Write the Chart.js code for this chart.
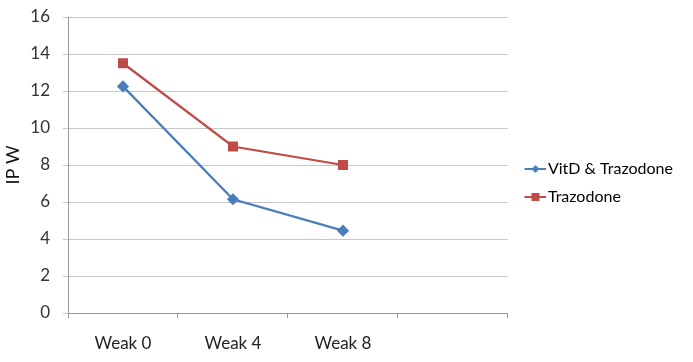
<!DOCTYPE html>
<html>
<head>
<meta charset="utf-8">
<script src="https://cdn.jsdelivr.net/npm/chart.js@4.4.1/dist/chart.umd.min.js"></script>
<style>
  html, body { margin: 0; padding: 0; background: #fff; }
  #wrap { width: 693px; height: 362px; }
</style>
</head>
<body>
<div id="wrap"><canvas id="chart" width="693" height="362"></canvas></div>
<script>
const weeks = ['Weak 0', 'Weak 4', 'Weak 8', ''];
const vitdTrazodone = [12.25, 6.15, 4.45, null];
const trazodone = [13.5, 9.0, 8.0, null];
const yTicks = { min: 0, max: 16, step: 2 };
const yTitle = 'IP W';

const blue = '#4a7ebb';
const red = '#be4b48';
const fontFamily = 'Lato, "Open Sans", sans-serif';

// legend marker: short line with the point symbol on it (left side left blank
// so the symbol sits close to the text)
function legendIcon(color, shape) {
  const c = document.createElement('canvas');
  c.width = 33; c.height = 10;
  const g = c.getContext('2d');
  g.strokeStyle = color;
  g.lineWidth = 2;
  g.beginPath(); g.moveTo(11, 5); g.lineTo(33, 5); g.stroke();
  g.fillStyle = color;
  if (shape === 'diamond') {
    g.beginPath(); g.moveTo(22, 1); g.lineTo(26, 5); g.lineTo(22, 9); g.lineTo(18, 5); g.closePath(); g.fill();
  } else {
    g.fillRect(18, 1, 8, 8);
  }
  return c;
}

new Chart(document.getElementById('chart'), {
  type: 'line',
  data: {
    labels: weeks,
    datasets: [
      {
        label: 'VitD & Trazodone',
        data: vitdTrazodone,
        borderColor: blue,
        backgroundColor: blue,
        borderWidth: 2.25,
        pointStyle: 'rectRot',
        pointRadius: 4.5,
        pointHoverRadius: 4.5,
        tension: 0
      },
      {
        label: 'Trazodone',
        data: trazodone,
        borderColor: red,
        backgroundColor: red,
        borderWidth: 2.25,
        pointStyle: 'rect',
        pointRadius: 5.5,
        pointHoverRadius: 5.5,
        tension: 0
      }
    ]
  },
  options: {
    responsive: false,
    animation: false,
    layout: { padding: { left: 0, top: 17, right: 10, bottom: 13 } },
    plugins: {
      tooltip: { enabled: false },
      legend: {
        position: 'right',
        maxWidth: 260,
        labels: {
          font: { family: fontFamily, size: 16 },
          color: '#222',
          usePointStyle: true,
          pointStyleWidth: 20,
          padding: 12,
          generateLabels: (chart) => chart.data.datasets.map((ds, i) => ({
            text: ds.label,
            pointStyle: legendIcon(ds.borderColor, i === 0 ? 'diamond' : 'square'),
            fillStyle: ds.borderColor,
            strokeStyle: ds.borderColor,
            lineWidth: 0,
            datasetIndex: i
          }))
        }
      }
    },
    scales: {
      x: {
        offset: true,
        grid: { display: true, drawOnChartArea: false, offset: true, tickLength: 5, color: '#999' },
        border: { color: '#999' },
        ticks: { font: { family: fontFamily, size: 17 }, color: '#222', padding: 15, autoSkip: false, maxRotation: 0 },
        afterFit: (scale) => { scale.height = 36; }
      },
      y: {
        min: yTicks.min,
        max: yTicks.max,
        grid: { color: '#c8c8c8', tickLength: 5 },
        border: { color: '#999' },
        ticks: { stepSize: yTicks.step, font: { family: fontFamily, size: 17 }, color: '#333', padding: 13 },
        title: { display: true, text: yTitle, font: { family: fontFamily, size: 18 }, color: '#111', padding: { top: 2, bottom: 8 } },
        afterFit: (scale) => { scale.width = 68; scale.paddingTop = 0; }
      }
    }
  }
});
</script>
</body>
</html>
